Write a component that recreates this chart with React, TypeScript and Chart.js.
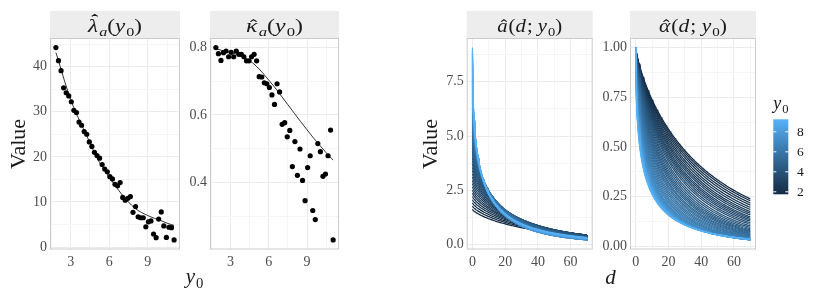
import React, { useEffect, useRef } from "react";
import { Chart, registerables } from "chart.js";
Chart.register(...registerables);

// ---------- data ----------
const y0Points = [1.85, 2.05, 2.25, 2.45, 2.65, 2.85, 3.05, 3.25, 3.45, 3.65, 3.85, 4.05, 4.25, 4.45, 4.65, 4.85, 5.05, 5.25, 5.45, 5.65, 5.85, 6.05, 6.25, 6.45, 6.65, 6.85, 7.05, 7.25, 7.45, 7.65, 7.85, 8.05, 8.25, 8.45, 8.65, 8.85, 9.05, 9.25, 9.45, 9.65, 9.85, 10.05, 10.25, 10.45, 10.65, 10.85, 11.05];
const lambdaPoints = [44.2, 41.3, 39.1, 35.3, 34.2, 33.5, 32.2, 30.3, 29.8, 27.7, 27.0, 25.6, 25.0, 23.3, 22.3, 21.0, 20.3, 19.7, 18.3, 17.3, 16.7, 15.6, 15.1, 13.9, 13.6, 14.3, 11.0, 10.4, 10.8, 11.2, 7.7, 9.0, 6.7, 6.5, 6.5, 4.5, 5.6, 5.8, 2.9, 2.1, 6.2, 7.8, 4.7, 2.15, 4.4, 4.3, 1.6];
const kappaPoints = [0.799, 0.781, 0.761, 0.784, 0.789, 0.772, 0.785, 0.772, 0.789, 0.779, 0.779, 0.772, 0.760, 0.760, 0.772, 0.779, 0.760, 0.713, 0.712, 0.695, 0.692, 0.681, 0.659, 0.631, 0.692, 0.668, 0.572, 0.577, 0.535, 0.554, 0.447, 0.521, 0.421, 0.499, 0.406, 0.346, 0.444, 0.479, 0.317, 0.290, 0.515, 0.491, 0.418, 0.425, 0.479, 0.555, 0.230];

const smoothY0 = [1.85, 2.0, 2.5, 3.0, 3.5, 4.0, 4.5, 5.0, 5.5, 6.0, 6.5, 7.0, 7.5, 8.0, 8.5, 9.0, 9.5, 10.0, 10.5, 11.05];
const lambdaSmooth = [43.1, 41.8, 37.0, 32.7, 29.2, 26.2, 23.1, 20.0, 17.6, 15.5, 13.5, 11.6, 10.0, 8.6, 7.7, 7.0, 6.4, 5.9, 5.3, 4.8];
const kappaSmooth = [0.795, 0.794, 0.789, 0.785, 0.779, 0.770, 0.760, 0.745, 0.725, 0.703, 0.680, 0.655, 0.630, 0.605, 0.580, 0.556, 0.532, 0.510, 0.488, 0.466];

// one curve per y0 in the right-hand panels: colour value, scale, shape, level at d = 0
const curveY0 = [1.75, 1.9, 2.05, 2.2, 2.35, 2.5, 2.65, 2.8, 2.95, 3.1, 3.25, 3.4, 3.55, 3.7, 3.85, 4, 4.15, 4.3, 4.45, 4.6, 4.75, 4.9, 5.05, 5.2, 5.35, 5.5, 5.65, 5.8, 5.95, 6.1, 6.25, 6.4, 6.55, 6.7, 6.85, 7, 7.15, 7.3, 7.45, 7.6, 7.75, 7.9, 8.05, 8.2, 8.35, 8.5, 8.65, 8.8, 8.95, 9.1, 9.25];
const curveScale = [44.5, 42.9, 41.1, 39.4, 37.6, 36.0, 34.4, 33.1, 31.8, 30.4, 29.3, 28.2, 27.1, 25.9, 24.8, 23.5, 22.4, 21.3, 20.3, 19.4, 18.6, 17.8, 16.9, 16.2, 15.4, 14.7, 13.9, 13.2, 12.5, 11.8, 11.2, 10.6, 10.1, 9.5, 9.1, 8.7, 8.4, 8.1, 7.9, 7.6, 7.3, 7.1, 6.9, 6.7, 6.5, 6.3, 6.1, 5.9, 5.7, 5.5, 5.3];
const curveShape = [0.796, 0.794, 0.792, 0.790, 0.788, 0.787, 0.785, 0.783, 0.781, 0.779, 0.776, 0.773, 0.769, 0.765, 0.762, 0.757, 0.752, 0.746, 0.739, 0.732, 0.725, 0.717, 0.708, 0.700, 0.692, 0.683, 0.674, 0.665, 0.656, 0.647, 0.638, 0.629, 0.620, 0.610, 0.602, 0.592, 0.583, 0.574, 0.566, 0.556, 0.548, 0.539, 0.530, 0.522, 0.514, 0.506, 0.498, 0.490, 0.482, 0.474, 0.466];
const curveLevel = [1.62, 1.77, 1.92, 2.07, 2.22, 2.37, 2.51, 2.66, 2.81, 2.96, 3.11, 3.26, 3.41, 3.56, 3.71, 3.86, 4.00, 4.15, 4.30, 4.45, 4.60, 4.75, 4.90, 5.05, 5.20, 5.35, 5.49, 5.64, 5.79, 5.94, 6.09, 6.24, 6.39, 6.54, 6.69, 6.84, 6.98, 7.13, 7.28, 7.43, 7.58, 7.73, 7.88, 8.03, 8.18, 8.33, 8.47, 8.62, 8.77, 8.92, 9.07];
const dGrid = Array.from({ length: 141 }, (_, i) => i * 0.5); // d = 0 .. 70

const legendTicks = [2, 4, 6, 8];

// ---------- styling ----------
const W = 822;
const H = 299;
const SERIF = "'Liberation Serif', 'DejaVu Serif', serif";
const TICK_COLOR = "#4D4D4D";
const TEXT_COLOR = "#1A1A1A";
const GRID_MAJOR = "#EBEBEB";
const GRID_MINOR = "#F5F5F5";
const LOW = [19, 43, 67];
const HIGH = [86, 177, 247];
const PANELS = [
  { left: 50, right: 180 },
  { left: 210, right: 339 },
  { left: 466.7, right: 592.7 },
  { left: 630, right: 756 },
];
const STRIP_WIDTHS = [54, 57, 65, 68];
const PLOT_TOP = 38;
const PLOT_BOTTOM = 249.5;
const STRIP_TOP = 11;

Chart.defaults.font.family = SERIF;

const cMin = Math.min(...curveY0);
const cMax = Math.max(...curveY0);
function colourAt(v: number) {
  const t = (v - cMin) / (cMax - cMin);
  const c = LOW.map((l, i) => Math.round(l + (HIGH[i] - l) * t));
  return `rgb(${c[0]},${c[1]},${c[2]})`;
}
function expand(vals: number[]) {
  const lo = Math.min(...vals);
  const hi = Math.max(...vals);
  const e = (hi - lo) * 0.05;
  return [lo - e, hi + e];
}
const isMult = (v: number, s: number) => Math.abs(v / s - Math.round(v / s)) < 1e-6;

type Seg = { t: string; it?: boolean; sub?: boolean; hat?: "high" | "low" };
function drawMath(ctx: CanvasRenderingContext2D, segs: Seg[], x0: number, base: number, size: number, color: string, align: "center" | "left" = "center", target = 0) {
  const sub = size * 0.7;
  const font = (s: Seg) => `${s.it ? "italic " : ""}${s.sub ? sub : size}px ${SERIF}`;
  const ws = segs.map((s) => {
    ctx.font = font(s);
    return ctx.measureText(s.t).width + (s.it && !s.sub ? size * 0.05 : 0);
  });
  const natural = ws.reduce((a, b) => a + b, 0);
  const sx = target > 0 ? target / natural : 1;
  const total = natural * sx;
  const start = align === "center" ? x0 - total / 2 : x0;
  ctx.save();
  ctx.translate(start, base);
  ctx.scale(sx, 1);
  ctx.fillStyle = color;
  ctx.strokeStyle = color;
  ctx.textAlign = "left";
  ctx.textBaseline = "alphabetic";
  let x = 0;
  segs.forEach((s, i) => {
    ctx.font = font(s);
    ctx.fillText(s.t, x, s.sub ? size * 0.22 : 0);
    if (s.hat) {
      const hx = x + ws[i] / 2 + size * 0.05;
      const hy = -size * (s.hat === "high" ? 0.9 : 0.62);
      ctx.beginPath();
      ctx.moveTo(hx - size * 0.13, hy + size * 0.1);
      ctx.lineTo(hx, hy);
      ctx.lineTo(hx + size * 0.13, hy + size * 0.1);
      ctx.lineWidth = Math.max(0.9, size * 0.055);
      ctx.stroke();
    }
    x += ws[i];
  });
  ctx.restore();
}

const stripPlugin = (id: string, segs: Seg[], target: number) => ({
  id,
  afterDraw(chart: any) {
    const { ctx, chartArea: a } = chart;
    ctx.save();
    ctx.fillStyle = "#EDEDED";
    ctx.fillRect(a.left, STRIP_TOP, a.right - a.left, a.top - STRIP_TOP);
    ctx.strokeStyle = "#CCCCCC";
    ctx.lineWidth = 1;
    ctx.strokeRect(a.left + 0.5, a.top + 0.5, a.right - a.left - 1, a.bottom - a.top - 1);
    drawMath(ctx, segs, (a.left + a.right) / 2, 31.5, 19, TEXT_COLOR, "center", target);
    ctx.restore();
  },
});

function axis(range: number[], major: number, fmt: (v: number) => string, isX: boolean) {
  return {
    type: "linear",
    min: range[0],
    max: range[1],
    afterFit: (s: any) => {
      if (isX) s.height = 25;
      else s.width = 40;
    },
    border: { display: false },
    grid: {
      drawTicks: false,
      lineWidth: 1,
      color: (c: any) => (c.tick && isMult(c.tick.value, major) ? GRID_MAJOR : GRID_MINOR),
    },
    ticks: {
      stepSize: major / 2,
      includeBounds: false,
      autoSkip: false,
      maxRotation: 0,
      padding: isX ? 4 : 3,
      color: TICK_COLOR,
      font: { family: SERIF, size: 14 },
      callback: (v: any) => (isMult(Number(v), major) ? fmt(Number(v)) : ""),
    },
  };
}

function buildChart(canvas: HTMLCanvasElement, p: number, datasets: any[], xr: number[], yr: number[], xMajor: number, yMajor: number, xFmt: (v: number) => string, yFmt: (v: number) => string, segs: Seg[]) {
  const panel = PANELS[p];
  return new Chart(canvas, {
    type: "scatter",
    data: { datasets },
    options: {
      animation: false,
      responsive: false,
      events: [],
      layout: { padding: { left: panel.left - 40, right: W - panel.right, top: PLOT_TOP, bottom: H - PLOT_BOTTOM - 25 } },
      plugins: { legend: { display: false }, tooltip: { enabled: false } },
      scales: {
        x: axis(xr, xMajor, xFmt, true),
        y: axis(yr, yMajor, yFmt, false),
      },
    } as any,
    plugins: [stripPlugin("strip" + p, segs, STRIP_WIDTHS[p])],
  });
}

function pointSet(ys: number[]) {
  return {
    data: y0Points.map((x, i) => ({ x, y: ys[i] })),
    showLine: false,
    pointRadius: 2.6,
    pointBackgroundColor: "#000",
    pointBorderWidth: 0,
  };
}
function smoothSet(ys: number[]) {
  return {
    data: smoothY0.map((x, i) => ({ x, y: ys[i] })),
    showLine: true,
    borderColor: "#000",
    borderWidth: 0.8,
    pointRadius: 0,
    cubicInterpolationMode: "monotone",
  };
}
// survival-type curves with the per-y0 scale/shape
function curveSets(withLevel: boolean) {
  const sets: any[] = [];
  for (let k = curveY0.length - 1; k >= 0; k--) {
    const lvl = withLevel ? curveLevel[k] : 1;
    sets.push({
      data: dGrid.map((d) => ({ x: d, y: lvl * Math.exp(-Math.pow(d / curveScale[k], curveShape[k])) })),
      showLine: true,
      borderColor: colourAt(curveY0[k]),
      borderWidth: 1.25,
      pointRadius: 0,
      tension: 0,
    });
  }
  return sets;
}

function drawDecor(ctx: CanvasRenderingContext2D) {
  ctx.clearRect(0, 0, W, H);
  [25, 437].forEach((bx) => {
    ctx.save();
    ctx.translate(bx, 144);
    ctx.rotate(-Math.PI / 2);
    ctx.font = `22px ${SERIF}`;
    ctx.fillStyle = TEXT_COLOR;
    ctx.textAlign = "center";
    ctx.textBaseline = "alphabetic";
    ctx.fillText("Value", 0, 0);
    ctx.restore();
  });
  drawMath(ctx, [{ t: "y", it: true }, { t: "0", sub: true }], 194.5, 283, 21, TEXT_COLOR);
  drawMath(ctx, [{ t: "d", it: true }], 611, 283.5, 21, TEXT_COLOR);
  const bl = 773.3, br = 788.3, bt = 119.3, bb = 194.3;
  drawMath(ctx, [{ t: "y", it: true }, { t: "0", sub: true }], bl, 109, 18, TEXT_COLOR, "left");
  const g = ctx.createLinearGradient(0, bb, 0, bt);
  for (let i = 0; i <= 10; i++) {
    g.addColorStop(i / 10, colourAt(cMin + (cMax - cMin) * (i / 10)));
  }
  ctx.fillStyle = g;
  ctx.fillRect(bl, bt, br - bl, bb - bt);
  ctx.strokeStyle = "#FFFFFF";
  ctx.lineWidth = 1;
  ctx.font = `13.5px ${SERIF}`;
  legendTicks.forEach((v) => {
    const y = bb - ((v - cMin) / (cMax - cMin)) * (bb - bt);
    ctx.beginPath();
    ctx.moveTo(bl, y);
    ctx.lineTo(bl + 3, y);
    ctx.moveTo(br - 3, y);
    ctx.lineTo(br, y);
    ctx.stroke();
    ctx.fillStyle = TEXT_COLOR;
    ctx.textAlign = "left";
    ctx.textBaseline = "middle";
    ctx.fillText(String(v), 797, y + 0.5);
  });
}

export default function App() {
  const r0 = useRef<HTMLCanvasElement>(null);
  const r1 = useRef<HTMLCanvasElement>(null);
  const r2 = useRef<HTMLCanvasElement>(null);
  const r3 = useRef<HTMLCanvasElement>(null);
  const ov = useRef<HTMLCanvasElement>(null);

  useEffect(() => {
    const xr = expand(y0Points);
    const c3 = curveSets(true);
    const c4 = curveSets(false);
    const all3 = c3.flatMap((s: any) => s.data.map((p: any) => p.y));
    const all4 = c4.flatMap((s: any) => s.data.map((p: any) => p.y));
    const dr = expand(dGrid);
    const intFmt = (v: number) => String(Math.round(v));
    const charts = [
      buildChart(r0.current!, 0, [pointSet(lambdaPoints), smoothSet(lambdaSmooth)], xr, expand(lambdaPoints), 3, 10, intFmt, intFmt,
        [{ t: "λ", it: true, hat: "high" }, { t: "a", it: true, sub: true }, { t: "(" }, { t: "y", it: true }, { t: "0", sub: true }, { t: ")" }]),
      buildChart(r1.current!, 1, [pointSet(kappaPoints), smoothSet(kappaSmooth)], xr, expand(kappaPoints), 3, 0.2, intFmt, (v) => v.toFixed(1),
        [{ t: "κ", it: true, hat: "low" }, { t: "a", it: true, sub: true }, { t: "(" }, { t: "y", it: true }, { t: "0", sub: true }, { t: ")" }]),
      buildChart(r2.current!, 2, c3, dr, expand(all3), 20, 2.5, intFmt, (v) => v.toFixed(1),
        [{ t: "a", it: true, hat: "low" }, { t: "(" }, { t: "d", it: true }, { t: "; " }, { t: "y", it: true }, { t: "0", sub: true }, { t: ")" }]),
      buildChart(r3.current!, 3, c4, dr, expand(all4), 20, 0.25, intFmt, (v) => v.toFixed(2),
        [{ t: "α", it: true, hat: "low" }, { t: "(" }, { t: "d", it: true }, { t: "; " }, { t: "y", it: true }, { t: "0", sub: true }, { t: ")" }]),
    ];
    const ctx = ov.current!.getContext("2d")!;
    drawDecor(ctx);
    return () => charts.forEach((c) => c.destroy());
  }, []);

  const cs: React.CSSProperties = { position: "absolute", left: 0, top: 0 };
  return (
    <div style={{ position: "fixed", left: 0, top: 0, width: W, height: H, background: "#FFFFFF" }}>
      <canvas ref={r0} width={W} height={H} style={cs} />
      <canvas ref={r1} width={W} height={H} style={cs} />
      <canvas ref={r2} width={W} height={H} style={cs} />
      <canvas ref={r3} width={W} height={H} style={cs} />
      <canvas ref={ov} width={W} height={H} style={cs} />
    </div>
  );
}
